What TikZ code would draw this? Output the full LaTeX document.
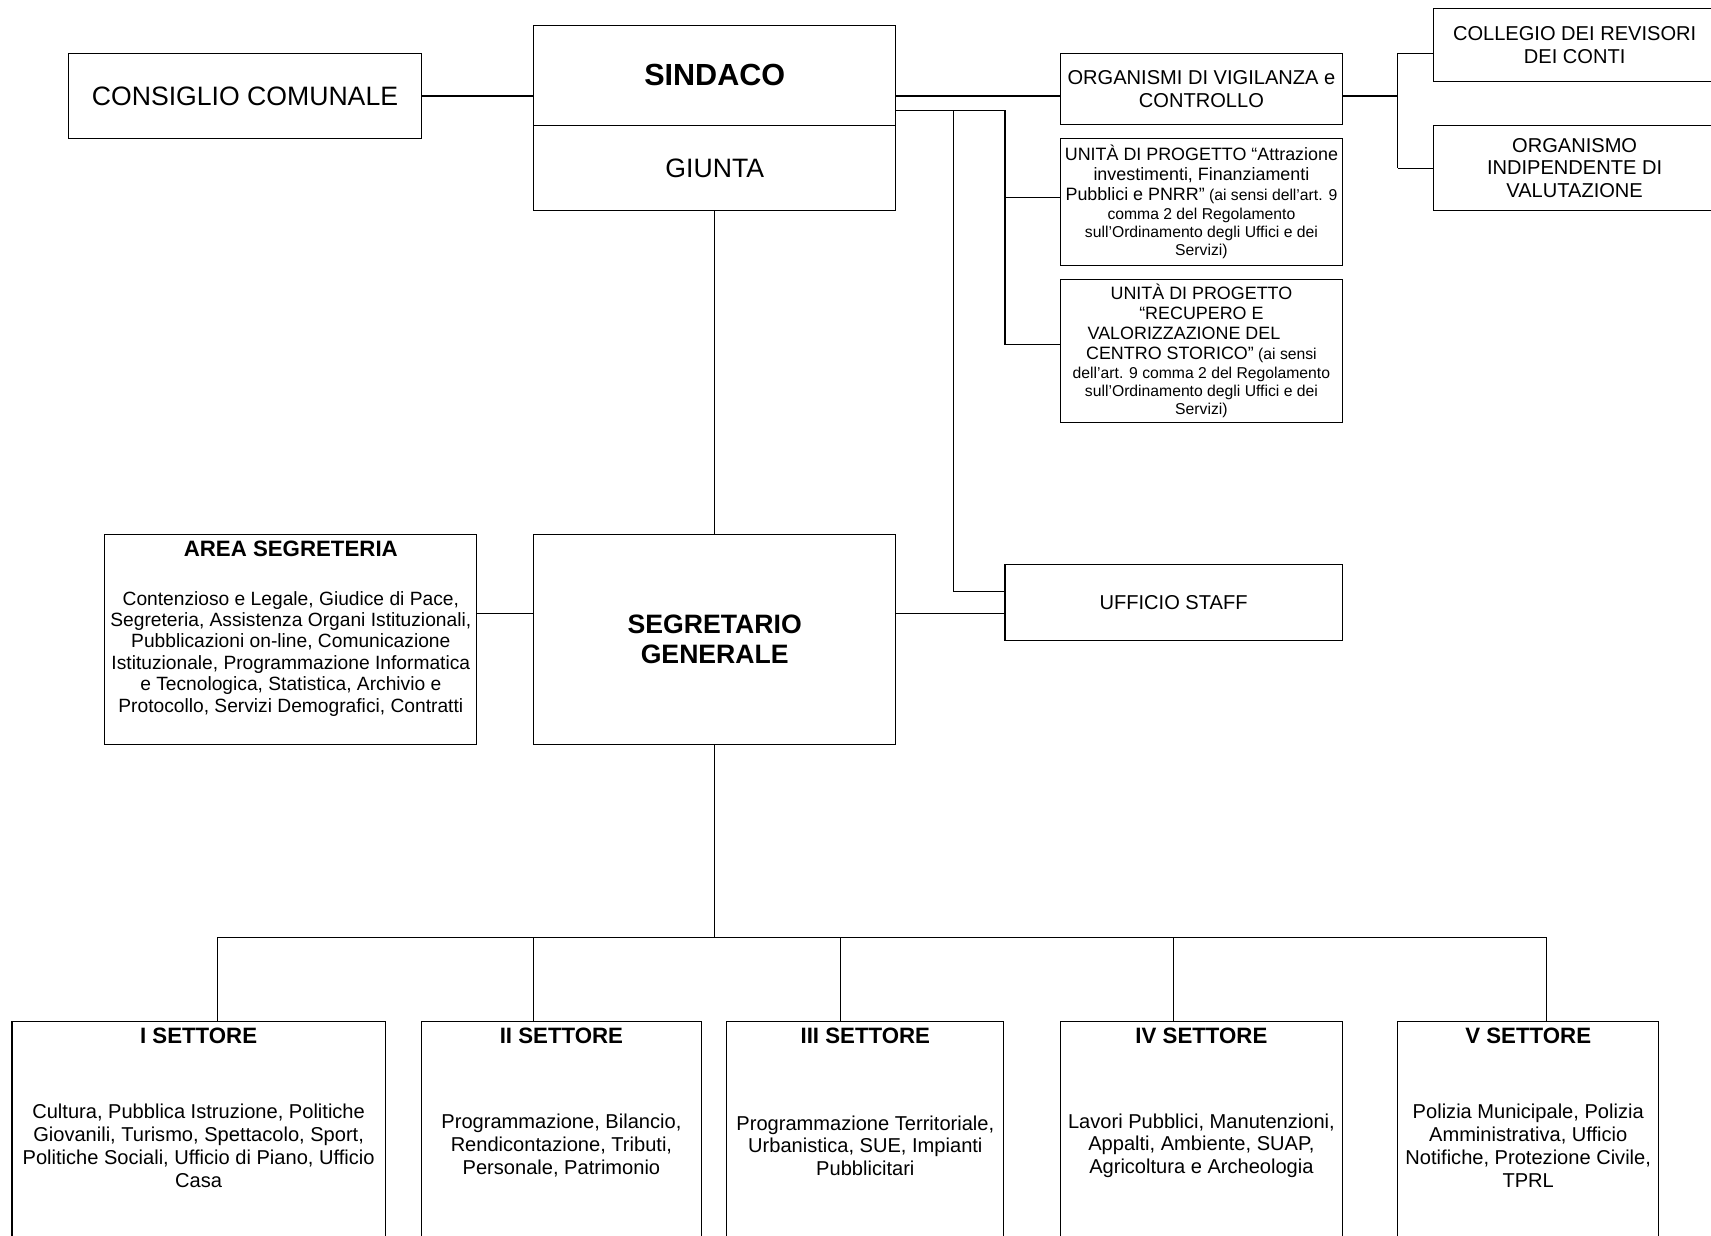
\documentclass[tikz,border=0pt]{standalone}
\usepackage{fontspec}
\setmainfont{Liberation Sans}
\newcommand{\upbig}{\fontsize{8.2}{9.1}\selectfont}
\begin{document}
\begin{tikzpicture}[x=0.5pt,y=-0.5pt,
  box/.style={draw=black, line width=0.5pt, inner sep=0pt, align=center, text=black},
  conn/.style={draw=black, line width=0.5pt},
  lg/.style={font=\fontsize{12.2}{14.6}\selectfont},
  hd/.style={font=\bfseries\fontsize{14}{16}\selectfont},
  sg/.style={font=\bfseries\fontsize{12.2}{13.6}\selectfont},
  md/.style={font=\fontsize{9.2}{10.3}\selectfont},
  sec/.style={font=\fontsize{9.2}{10.5}\selectfont},
  ttl/.style={font=\bfseries\fontsize{10.2}{12}\selectfont, inner sep=0pt},
  ar/.style={font=\fontsize{8.8}{9.8}\selectfont, inner sep=0pt, align=center},
  up/.style={font=\fontsize{7.2}{8.3}\selectfont}
]
\useasboundingbox (0,0) rectangle (1568,1132);

% top level
\node[box, lg, minimum width=161.5pt, minimum height=39pt] (cc) at (224.5,88) {CONSIGLIO COMUNALE};
\node[box, hd, minimum width=166pt, minimum height=46pt] (sindaco) at (655,69) {SINDACO};
\node[box, lg, minimum width=166pt, minimum height=39pt] (giunta) at (655,154) {GIUNTA};

% control bodies and project units
\node[box, md, minimum width=129pt, minimum height=32.5pt] (org) at (1101,81.5) {ORGANISMI DI VIGILANZA e\\CONTROLLO};
\node[box, up, minimum width=129pt, minimum height=58pt] (up1) at (1101,185)
  {{\upbig UNITÀ DI PROGETTO “Attrazione}\\[0.9pt]
   {\upbig investimenti, Finanziamenti}\\[0.9pt]
   {\upbig Pubblici e PNRR”} (ai sensi dell’art. 9\\[0.4pt]
   comma 2 del Regolamento\\
   sull’Ordinamento degli Uffici e dei\\
   Servizi)};
\node[box, up, minimum width=129pt, minimum height=65.5pt] (up2) at (1101,321.5)
  {{\upbig UNITÀ DI PROGETTO}\\[0.9pt]
   {\upbig “RECUPERO E}\\[0.9pt]
   {\upbig VALORIZZAZIONE DEL\kern16pt}\\[0.9pt]
   {\upbig CENTRO STORICO”} (ai sensi\\[0.4pt]
   dell’art. 9 comma 2 del Regolamento\\
   sull’Ordinamento degli Uffici e dei\\
   Servizi)};
\node[box, md, minimum width=129pt, minimum height=33.5pt] (coll) at (1443,41.5) {COLLEGIO DEI REVISORI\\DEI CONTI};
\node[box, md, minimum width=129pt, minimum height=39pt] (oiv) at (1443,154) {ORGANISMO\\INDIPENDENTE DI\\VALUTAZIONE};
\node[box, md, minimum width=154.5pt, minimum height=35pt] (staff) at (1075.5,552) {UFFICIO STAFF};

% secretariat
\node[box, minimum width=170.5pt, minimum height=96pt] (area) at (266.5,586) {};
\node[ttl] (areat) at (266.5,503) {AREA SEGRETERIA};
\node[ar] (areab) at (266.5,599) {Contenzioso e Legale, Giudice di Pace,\\
  Segreteria, Assistenza Organi Istituzionali,\\
  Pubblicazioni on-line, Comunicazione\\
  Istituzionale, Programmazione Informatica\\
  e Tecnologica, Statistica, Archivio e\\
  Protocollo, Servizi Demografici, Contratti};
\node[box, sg, minimum width=166pt, minimum height=96pt] (seg) at (655,586) {SEGRETARIO\\GENERALE};

% sectors
\node[box, sec, minimum width=171pt, minimum height=114pt] (s1) at (182,1050)
  {Cultura, Pubblica Istruzione, Politiche\\Giovanili, Turismo, Spettacolo, Sport,\\Politiche Sociali, Ufficio di Piano, Ufficio\\Casa};
\node[box, sec, minimum width=128.5pt, minimum height=114pt] (s2) at (514.5,1050)
  {Programmazione, Bilancio,\\Rendicontazione, Tributi,\\Personale, Patrimonio};
\node[box, sec, minimum width=127pt, minimum height=114pt] (s3) at (793,1050)
  {Programmazione Territoriale,\\Urbanistica, SUE, Impianti\\Pubblicitari};
\node[box, sec, minimum width=129pt, minimum height=114pt] (s4) at (1101,1050)
  {Lavori Pubblici, Manutenzioni,\\Appalti, Ambiente, SUAP,\\Agricoltura e Archeologia};
\node[box, sec, minimum width=119.5pt, minimum height=114pt] (s5) at (1400.5,1050)
  {Polizia Municipale, Polizia\\Amministrativa, Ufficio\\Notifiche, Protezione Civile,\\TPRL};
\node[ttl] (s1t) at (182,949) {I SETTORE};
\node[ttl] (s2t) at (514.5,949) {II SETTORE};
\node[ttl] (s3t) at (793,949) {III SETTORE};
\node[ttl] (s4t) at (1101,949) {IV SETTORE};
\node[ttl] (s5t) at (1400.5,949) {V SETTORE};

% connectors: top row
\coordinate (ke) at (0,88);
\draw[conn] (cc.east) -- (sindaco.west |- ke);
\draw[conn] (sindaco.east |- ke) -- (org.west |- ke);
\coordinate (kf) at (1281,88);
\coordinate (kg) at (1281,49);
\coordinate (kh) at (1281,154);
\draw[conn] (org.east |- kf) -- (kf);
\draw[conn] (kg) -- (kh);
\draw[conn] (kg) -- (kg -| coll.west);
\draw[conn] (kh) -- (kh -| oiv.west);

% connectors: staff branch
\coordinate (ja) at (921,101);
\coordinate (jb) at (874,101);
\coordinate (ka) at (921,181);
\coordinate (kb) at (921,316);
\coordinate (kc) at (874,542);
\draw[conn] (sindaco.east |- ja) -- (ja) -- (kb);
\draw[conn] (ka) -- (ka -| up1.west);
\draw[conn] (kb) -- (kb -| up2.west);
\draw[conn] (jb) -- (kc) -- (kc -| staff.west);

% connectors: secretary
\coordinate (kd) at (0,562);
\draw[conn] (giunta.south) -- (seg.north);
\draw[conn] (area.east |- kd) -- (seg.west |- kd);
\draw[conn] (seg.east |- kd) -- (staff.west |- kd);

% connectors: sector bus
\coordinate (bus) at (655,859);
\coordinate (d1) at (199,859);
\coordinate (d2) at (489,859);
\coordinate (d3) at (770,859);
\coordinate (d4) at (1075,859);
\coordinate (d5) at (1417,859);
\draw[conn] (seg.south) -- (bus);
\draw[conn] (d1) -- (d5);
\draw[conn] (d1) -- (d1 |- s1.north);
\draw[conn] (d2) -- (d2 |- s2.north);
\draw[conn] (d3) -- (d3 |- s3.north);
\draw[conn] (d4) -- (d4 |- s4.north);
\draw[conn] (d5) -- (d5 |- s5.north);
\end{tikzpicture}
\end{document}
